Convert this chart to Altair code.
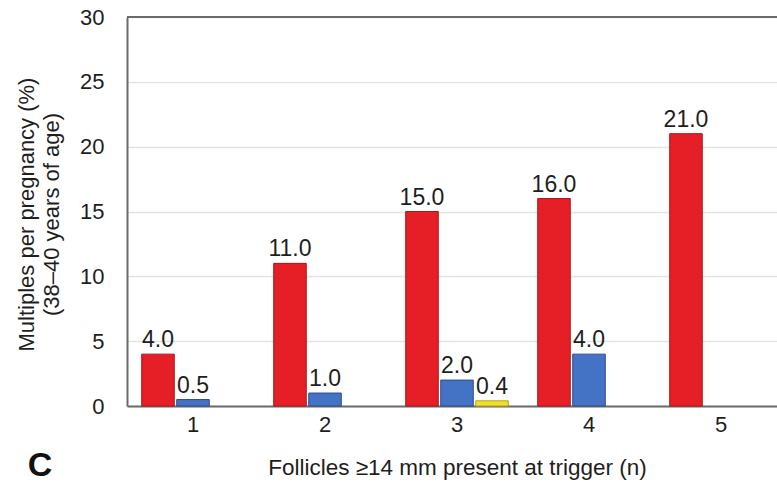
import altair as alt
import pandas as pd

# Number of follicles >=14 mm present at trigger
follicles = ["1", "2", "3", "4", "5"]

# Multiple pregnancy rates (%) by order of multiple, women 38-40 years of age
series = ["Twins", "Triplets", "Quadruplets"]
twins = [4.0, 11.0, 15.0, 16.0, 21.0]
triplets = [0.5, 1.0, 2.0, 4.0, None]
quadruplets = [None, None, 0.4, None, None]

y_ticks = [0, 5, 10, 15, 20, 25, 30]
panel_letter = ["C"]

fill_colors = ["#E61E26", "#4472C4", "#F0E02E"]
edge_colors = ["#A9161C", "#2C4F8C", "#B3A41C"]

rows = []
for name, vals in zip(series, [twins, triplets, quadruplets]):
    for f, v in zip(follicles, vals):
        if v is not None:
            rows.append({"follicles": f, "series": name, "value": v})
df = pd.DataFrame(rows)

FONT = "Liberation Sans"
AXIS_COLOR = "#6b6b6b"
TEXT_COLOR = "#1e1e1e"

x_enc = alt.X(
    "follicles:N",
    sort=follicles,
    scale=alt.Scale(range=[0, 660], paddingInner=0, paddingOuter=0),
    axis=alt.Axis(
        title="Follicles \u226514 mm present at trigger (n)",
        labelAngle=0,
        labelFontSize=22,
        labelColor=TEXT_COLOR,
        labelPadding=8,
        ticks=False,
        grid=False,
        domainColor=AXIS_COLOR,
        domainWidth=2,
        titleFontSize=22.5,
        titleFontWeight="normal",
        titleColor=TEXT_COLOR,
        titleY=61,
        titleBaseline="middle",
    ),
)
x_off = alt.XOffset(
    "series:N",
    sort=series,
    scale=alt.Scale(paddingInner=0.07, paddingOuter=0.42),
)
y_enc = alt.Y(
    "value:Q",
    scale=alt.Scale(domain=[0, 30], nice=False),
    axis=alt.Axis(
        values=y_ticks,
        title=["Multiples per pregnancy (%)", "(38\u201340 years of age)"],
        labelFontSize=22,
        labelColor=TEXT_COLOR,
        labelPadding=23,
        ticks=False,
        domainColor=AXIS_COLOR,
        domainWidth=2,
        grid=True,
        gridColor="#e2e2e2",
        gridWidth=1.5,
        titleFontSize=22,
        titleFontWeight="normal",
        titleColor=TEXT_COLOR,
        titleLineHeight=25,
        titleAngle=-90,
        titleAlign="center",
        titleBaseline="middle",
        titleX=-101,
        titleY=197,
    ),
)

base = alt.Chart(df).encode(x=x_enc, xOffset=x_off, y=y_enc)

bars = base.mark_bar(strokeWidth=1).encode(
    color=alt.Color("series:N", sort=series,
                    scale=alt.Scale(domain=series, range=fill_colors), legend=None),
    stroke=alt.Stroke("series:N", sort=series,
                      scale=alt.Scale(domain=series, range=edge_colors), legend=None),
)

labels = base.mark_text(
    baseline="bottom", dy=-2, fontSize=23, color=TEXT_COLOR, font=FONT
).encode(text=alt.Text("value:Q", format=".1f"))

# dark frame line along the top of the plot
top_line = alt.Chart(pd.DataFrame({"v": [30]})).mark_rule(
    color=AXIS_COLOR, strokeWidth=2
).encode(y=alt.Y("v:Q"))

letter = alt.Chart(pd.DataFrame({"t": panel_letter})).mark_text(
    fontSize=34, fontWeight="bold", color="#111111", font=FONT,
    align="center", baseline="middle",
).encode(text="t:N", x=alt.value(-87), y=alt.value(449))

chart = (
    alt.layer(top_line, bars, labels, letter)
    .properties(
        width=650,
        height=389,
        autosize=alt.AutoSizeParams(type="none"),
        padding={"left": 127, "top": 17, "right": 0, "bottom": 77},
        background="white",
    )
    .configure(font=FONT)
    .configure_view(stroke=None)
)

chart.save("out.html", embed_options={"renderer": "svg", "actions": False})
